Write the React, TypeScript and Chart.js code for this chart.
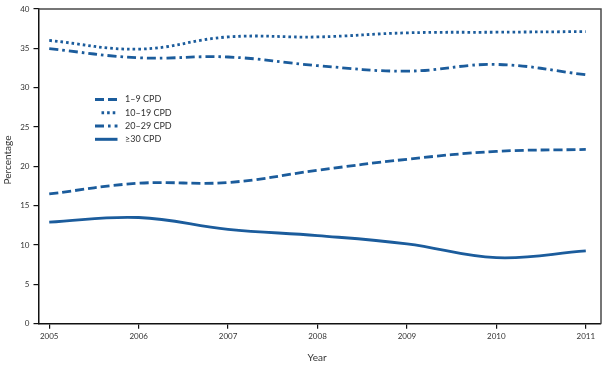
import React, { useEffect, useRef } from "react";
import { Chart, registerables } from "chart.js";
Chart.register(...registerables);

const years = [2005, 2006, 2007, 2008, 2009, 2010, 2011];
const cpd1to9 = [16.5, 17.85, 17.95, 19.5, 20.9, 21.9, 22.15];
const cpd10to19 = [36.0, 34.9, 36.45, 36.45, 36.97, 37.05, 37.13];
const cpd20to29 = [34.95, 33.8, 33.9, 32.8, 32.1, 32.95, 31.65];
const cpd30plus = [12.9, 13.5, 12.0, 11.2, 10.15, 8.4, 9.25];
const seriesLabels = ["1–9 CPD", "10–19 CPD", "20–29 CPD", "≥30 CPD"];
const yTicks = [0, 5, 10, 15, 20, 25, 30, 35, 40];

const BLUE = "#1b5c9c";
const FONT = "Lato, 'Open Sans', sans-serif";
const dashes = [[9, 4], [2.6, 3], [9, 4, 2.6, 4], []];

const legendPlugin = {
  id: "customLegendAndTitles",
  afterDraw(chart: any) {
    const ctx = chart.ctx;
    const area = chart.chartArea;
    ctx.save();
    // top & right border
    ctx.strokeStyle = "#4a4a4a";
    ctx.lineWidth = 1.5;
    ctx.beginPath();
    ctx.moveTo(area.left, area.top);
    ctx.lineTo(area.right, area.top);
    ctx.lineTo(area.right, area.bottom);
    ctx.stroke();
    // legend
    const rows = [99.5, 112.8, 126, 139.3];
    const starts = [95, 101.5, 95, 95];
    chart.data.datasets.forEach((ds: any, i: number) => {
      ctx.strokeStyle = BLUE;
      ctx.lineWidth = 3;
      ctx.lineCap = "butt";
      ctx.setLineDash(dashes[i]);
      ctx.beginPath();
      ctx.moveTo(starts[i], rows[i]);
      ctx.lineTo(117.5, rows[i]);
      ctx.stroke();
      ctx.setLineDash([]);
      ctx.fillStyle = "#333";
      ctx.font = `9px ${FONT}`;
      ctx.textAlign = "left";
      ctx.textBaseline = "middle";
      ctx.fillText(ds.label, 125, rows[i]);
    });
    // axis titles
    ctx.fillStyle = "#333";
    ctx.font = `10px ${FONT}`;
    ctx.textAlign = "center";
    ctx.textBaseline = "middle";
    ctx.fillText("Year", 317, 358);
    ctx.translate(7.5, 160);
    ctx.rotate(-Math.PI / 2);
    ctx.fillText("Percentage", 0, 0);
    ctx.restore();
  },
};

export default function App() {
  const ref = useRef<HTMLCanvasElement>(null);
  useEffect(() => {
    const values = [cpd1to9, cpd10to19, cpd20to29, cpd30plus];
    const chart = new Chart(ref.current as HTMLCanvasElement, {
      type: "line",
      data: {
        datasets: values.map((arr, i) => ({
          label: seriesLabels[i],
          data: arr.map((v, j) => ({ x: years[j], y: v })),
          borderColor: BLUE,
          backgroundColor: BLUE,
          borderWidth: 2.8,
          borderDash: dashes[i],
          borderCapStyle: "butt",
          pointRadius: 0,
          tension: 0.4,
          fill: false,
        })),
      },
      options: {
        animation: false,
        responsive: false,
        layout: { padding: { top: 9, right: 7, left: 0, bottom: 0 } },
        plugins: { legend: { display: false }, tooltip: { enabled: false } },
        scales: {
          x: {
            type: "linear",
            min: 2004.88,
            max: 2011.17,
            afterBuildTicks: (scale: any) => {
              scale.ticks = years.map((v) => ({ value: v }));
            },
            afterFit: (scale: any) => {
              scale.height = 43.3;
            },
            ticks: {
              color: "#333",
              font: { family: FONT, size: 8 },
              padding: 3,
              maxRotation: 0,
              autoSkip: false,
              callback: (v: any) => String(v),
            },
            grid: { display: true, drawOnChartArea: false, drawTicks: true, tickLength: 5, color: "#111", lineWidth: 1.2 },
            border: { display: true, color: "#111", width: 1.5 },
          },
          y: {
            min: 0,
            max: 40,
            afterBuildTicks: (scale: any) => {
              scale.ticks = yTicks.map((v) => ({ value: v }));
            },
            afterFit: (scale: any) => {
              scale.width = 38.5;
            },
            ticks: {
              color: "#333",
              font: { family: FONT, size: 8 },
              padding: 4,
              callback: (v: any) => String(v),
            },
            grid: { display: true, drawOnChartArea: false, drawTicks: true, tickLength: 5, color: "#111", lineWidth: 1.2 },
            border: { display: true, color: "#111", width: 1.5 },
          },
        },
      },
      plugins: [legendPlugin],
    } as any);
    return () => chart.destroy();
  }, []);
  return (
    <div style={{ position: "fixed", left: 0, top: 0, width: 608, height: 367, background: "#fff" }}>
      <canvas ref={ref} width={608} height={367} style={{ width: 608, height: 367 }} />
    </div>
  );
}
